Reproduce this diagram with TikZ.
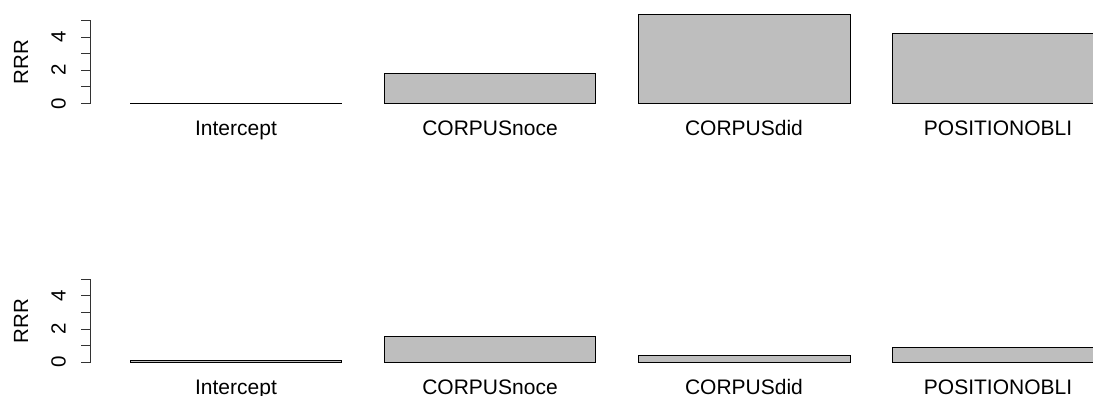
\documentclass[tikz,border=0pt]{standalone}
\usepackage{fontspec}
\setmainfont{Liberation Sans}
\definecolor{bargray}{RGB}{190,190,190}
\begin{document}
\begin{tikzpicture}[x=1pt,y=1pt,
    bar/.style={draw=black,fill=bargray,line width=0.9pt},
    axisline/.style={draw=black!80,line width=0.9pt},
    lab/.style={inner sep=0pt,anchor=base,font=\fontsize{21}{25}\selectfont},
    ticklab/.style={inner sep=0pt,rotate=90,font=\fontsize{20.5}{24}\selectfont}]
  \clip (0,0) rectangle (1093,396);
  % top panel
  \begin{scope}[yshift=292.5pt,y=16.6pt]
    \draw[axisline] (90.7,0) -- (90.7,5);
    \draw[axisline] (81,0) -- (90.7,0);
    \draw[axisline] (81,1) -- (90.7,1);
    \draw[axisline] (81,2) -- (90.7,2);
    \draw[axisline] (81,3) -- (90.7,3);
    \draw[axisline] (81,4) -- (90.7,4);
    \draw[axisline] (81,5) -- (90.7,5);
    \node[ticklab] (t0a) at (58.5,0) {0};
    \node[ticklab] (t2a) at (58.5,2) {2};
    \node[ticklab] (t4a) at (58.5,4) {4};
    \node[ticklab] (ya) at (21,2.5) {RRR};
    \draw[bar] (130,0) rectangle (341.7,0.03);
    \draw[bar] (384,0) rectangle (595.7,1.78);
    \draw[bar] (638.3,0) rectangle (850,5.39);
    \draw[bar] (892,0) rectangle (1103.7,4.23);
    \node[lab] (ia) at (236,-1.93) {Intercept};
    \node[lab] (na) at (490,-1.93) {CORPUSnoce};
    \node[lab] (da) at (744,-1.93) {CORPUSdid};
    \node[lab] (pa) at (998,-1.93) {POSITIONOBLI};
  \end{scope}
  % bottom panel
  \begin{scope}[yshift=33.7pt,y=16.6pt]
    \draw[axisline] (90.7,0) -- (90.7,5);
    \draw[axisline] (81,0) -- (90.7,0);
    \draw[axisline] (81,1) -- (90.7,1);
    \draw[axisline] (81,2) -- (90.7,2);
    \draw[axisline] (81,3) -- (90.7,3);
    \draw[axisline] (81,4) -- (90.7,4);
    \draw[axisline] (81,5) -- (90.7,5);
    \node[ticklab] (t0b) at (58.5,0) {0};
    \node[ticklab] (t2b) at (58.5,2) {2};
    \node[ticklab] (t4b) at (58.5,4) {4};
    \node[ticklab] (yb) at (21,2.5) {RRR};
    \draw[bar] (130,0) rectangle (341.7,0.12);
    \draw[bar] (384,0) rectangle (595.7,1.58);
    \draw[bar] (638.3,0) rectangle (850,0.42);
    \draw[bar] (892,0) rectangle (1103.7,0.9);
    \node[lab] (ib) at (236,-1.93) {Intercept};
    \node[lab] (nb) at (490,-1.93) {CORPUSnoce};
    \node[lab] (db) at (744,-1.93) {CORPUSdid};
    \node[lab] (pb) at (998,-1.93) {POSITIONOBLI};
  \end{scope}
\end{tikzpicture}
\end{document}
